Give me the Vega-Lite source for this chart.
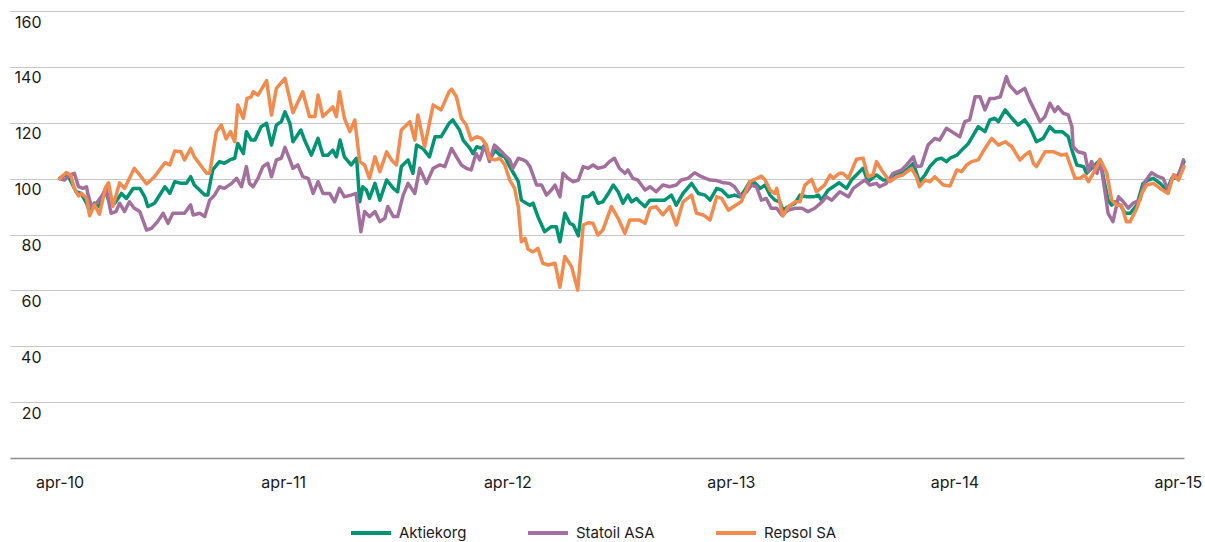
{
  "$schema": "https://vega.github.io/schema/vega-lite/v6.json",
  "width": 1174,
  "height": 447,
  "autosize": {"type": "none"},
  "padding": {"left": 10, "top": 11, "right": 21, "bottom": 84},
  "background": "white",
  "config": {"view": {"stroke": null}, "font": "Inter"},
  "data": {"values": [
    {"series":"Aktiekorg","date":"2010-04-01","value":100},
    {"series":"Aktiekorg","date":"2010-04-09","value":101.3},
    {"series":"Aktiekorg","date":"2010-04-17","value":100.1},
    {"series":"Aktiekorg","date":"2010-04-28","value":95.3},
    {"series":"Aktiekorg","date":"2010-05-06","value":94.7},
    {"series":"Aktiekorg","date":"2010-05-15","value":91.2},
    {"series":"Aktiekorg","date":"2010-05-20","value":88.2},
    {"series":"Aktiekorg","date":"2010-05-28","value":91.2},
    {"series":"Aktiekorg","date":"2010-06-05","value":90},
    {"series":"Aktiekorg","date":"2010-06-14","value":95.9},
    {"series":"Aktiekorg","date":"2010-06-22","value":91.2},
    {"series":"Aktiekorg","date":"2010-06-30","value":91.2},
    {"series":"Aktiekorg","date":"2010-07-11","value":94.7},
    {"series":"Aktiekorg","date":"2010-07-19","value":92.9},
    {"series":"Aktiekorg","date":"2010-07-30","value":96.5},
    {"series":"Aktiekorg","date":"2010-08-10","value":96.5},
    {"series":"Aktiekorg","date":"2010-08-18","value":93.5},
    {"series":"Aktiekorg","date":"2010-08-23","value":90},
    {"series":"Aktiekorg","date":"2010-09-03","value":91.2},
    {"series":"Aktiekorg","date":"2010-09-20","value":97.1},
    {"series":"Aktiekorg","date":"2010-09-28","value":94.7},
    {"series":"Aktiekorg","date":"2010-10-06","value":98.9},
    {"series":"Aktiekorg","date":"2010-10-17","value":98.3},
    {"series":"Aktiekorg","date":"2010-10-25","value":98.3},
    {"series":"Aktiekorg","date":"2010-11-01","value":100.7},
    {"series":"Aktiekorg","date":"2010-11-07","value":97.7},
    {"series":"Aktiekorg","date":"2010-11-24","value":94.1},
    {"series":"Aktiekorg","date":"2010-11-29","value":94.1},
    {"series":"Aktiekorg","date":"2010-12-07","value":103.1},
    {"series":"Aktiekorg","date":"2010-12-18","value":106.1},
    {"series":"Aktiekorg","date":"2010-12-26","value":105.5},
    {"series":"Aktiekorg","date":"2011-01-04","value":106.7},
    {"series":"Aktiekorg","date":"2011-01-12","value":107.3},
    {"series":"Aktiekorg","date":"2011-01-17","value":112.6},
    {"series":"Aktiekorg","date":"2011-01-26","value":109},
    {"series":"Aktiekorg","date":"2011-01-31","value":116.8},
    {"series":"Aktiekorg","date":"2011-02-08","value":113.8},
    {"series":"Aktiekorg","date":"2011-02-14","value":113.8},
    {"series":"Aktiekorg","date":"2011-02-24","value":118.6},
    {"series":"Aktiekorg","date":"2011-03-05","value":119.8},
    {"series":"Aktiekorg","date":"2011-03-13","value":112},
    {"series":"Aktiekorg","date":"2011-03-21","value":119.2},
    {"series":"Aktiekorg","date":"2011-03-29","value":120.4},
    {"series":"Aktiekorg","date":"2011-04-04","value":123.9},
    {"series":"Aktiekorg","date":"2011-04-12","value":119.8},
    {"series":"Aktiekorg","date":"2011-04-17","value":113.2},
    {"series":"Aktiekorg","date":"2011-04-30","value":117.4},
    {"series":"Aktiekorg","date":"2011-05-06","value":113.8},
    {"series":"Aktiekorg","date":"2011-05-17","value":108.4},
    {"series":"Aktiekorg","date":"2011-05-28","value":114.4},
    {"series":"Aktiekorg","date":"2011-06-05","value":108.4},
    {"series":"Aktiekorg","date":"2011-06-13","value":108.4},
    {"series":"Aktiekorg","date":"2011-06-21","value":110.2},
    {"series":"Aktiekorg","date":"2011-06-27","value":107.8},
    {"series":"Aktiekorg","date":"2011-07-03","value":113.8},
    {"series":"Aktiekorg","date":"2011-07-10","value":107.8},
    {"series":"Aktiekorg","date":"2011-07-21","value":104.9},
    {"series":"Aktiekorg","date":"2011-07-30","value":107.3},
    {"series":"Aktiekorg","date":"2011-08-04","value":91.7},
    {"series":"Aktiekorg","date":"2011-08-09","value":97.1},
    {"series":"Aktiekorg","date":"2011-08-15","value":95.9},
    {"series":"Aktiekorg","date":"2011-08-20","value":92.9},
    {"series":"Aktiekorg","date":"2011-08-29","value":98.3},
    {"series":"Aktiekorg","date":"2011-09-06","value":92.3},
    {"series":"Aktiekorg","date":"2011-09-17","value":99.5},
    {"series":"Aktiekorg","date":"2011-09-28","value":96.5},
    {"series":"Aktiekorg","date":"2011-10-05","value":95.3},
    {"series":"Aktiekorg","date":"2011-10-11","value":104.3},
    {"series":"Aktiekorg","date":"2011-10-22","value":106.7},
    {"series":"Aktiekorg","date":"2011-10-30","value":101.9},
    {"series":"Aktiekorg","date":"2011-11-05","value":112},
    {"series":"Aktiekorg","date":"2011-11-15","value":110.8},
    {"series":"Aktiekorg","date":"2011-11-26","value":107.8},
    {"series":"Aktiekorg","date":"2011-12-05","value":115},
    {"series":"Aktiekorg","date":"2011-12-15","value":115},
    {"series":"Aktiekorg","date":"2011-12-28","value":119.8},
    {"series":"Aktiekorg","date":"2012-01-03","value":121},
    {"series":"Aktiekorg","date":"2012-01-14","value":117.4},
    {"series":"Aktiekorg","date":"2012-01-20","value":113.8},
    {"series":"Aktiekorg","date":"2012-01-31","value":110.8},
    {"series":"Aktiekorg","date":"2012-02-05","value":109},
    {"series":"Aktiekorg","date":"2012-02-11","value":111.4},
    {"series":"Aktiekorg","date":"2012-02-19","value":110.8},
    {"series":"Aktiekorg","date":"2012-02-24","value":112},
    {"series":"Aktiekorg","date":"2012-03-03","value":106.7},
    {"series":"Aktiekorg","date":"2012-03-12","value":110.2},
    {"series":"Aktiekorg","date":"2012-03-20","value":108.4},
    {"series":"Aktiekorg","date":"2012-03-28","value":107.8},
    {"series":"Aktiekorg","date":"2012-04-05","value":104.3},
    {"series":"Aktiekorg","date":"2012-04-13","value":101.3},
    {"series":"Aktiekorg","date":"2012-04-19","value":98.9},
    {"series":"Aktiekorg","date":"2012-04-24","value":92.3},
    {"series":"Aktiekorg","date":"2012-05-02","value":91.2},
    {"series":"Aktiekorg","date":"2012-05-08","value":90.5},
    {"series":"Aktiekorg","date":"2012-05-13","value":91.2},
    {"series":"Aktiekorg","date":"2012-05-21","value":86.4},
    {"series":"Aktiekorg","date":"2012-06-01","value":81},
    {"series":"Aktiekorg","date":"2012-06-12","value":82.8},
    {"series":"Aktiekorg","date":"2012-06-20","value":82.8},
    {"series":"Aktiekorg","date":"2012-06-26","value":77.4},
    {"series":"Aktiekorg","date":"2012-07-04","value":87.6},
    {"series":"Aktiekorg","date":"2012-07-12","value":84},
    {"series":"Aktiekorg","date":"2012-07-18","value":83.4},
    {"series":"Aktiekorg","date":"2012-07-26","value":79.5},
    {"series":"Aktiekorg","date":"2012-08-03","value":93.5},
    {"series":"Aktiekorg","date":"2012-08-11","value":93.5},
    {"series":"Aktiekorg","date":"2012-08-19","value":95},
    {"series":"Aktiekorg","date":"2012-08-27","value":91.2},
    {"series":"Aktiekorg","date":"2012-09-04","value":91.7},
    {"series":"Aktiekorg","date":"2012-09-13","value":94.7},
    {"series":"Aktiekorg","date":"2012-09-21","value":97.7},
    {"series":"Aktiekorg","date":"2012-09-29","value":95.3},
    {"series":"Aktiekorg","date":"2012-10-07","value":91.2},
    {"series":"Aktiekorg","date":"2012-10-15","value":94.1},
    {"series":"Aktiekorg","date":"2012-10-21","value":91.7},
    {"series":"Aktiekorg","date":"2012-10-29","value":92.9},
    {"series":"Aktiekorg","date":"2012-11-03","value":91.7},
    {"series":"Aktiekorg","date":"2012-11-12","value":90},
    {"series":"Aktiekorg","date":"2012-11-20","value":92.3},
    {"series":"Aktiekorg","date":"2012-11-30","value":92.3},
    {"series":"Aktiekorg","date":"2012-12-14","value":92.3},
    {"series":"Aktiekorg","date":"2012-12-25","value":94.1},
    {"series":"Aktiekorg","date":"2013-01-02","value":90.5},
    {"series":"Aktiekorg","date":"2013-01-13","value":94.7},
    {"series":"Aktiekorg","date":"2013-01-27","value":98.3},
    {"series":"Aktiekorg","date":"2013-02-07","value":94.7},
    {"series":"Aktiekorg","date":"2013-02-18","value":94.1},
    {"series":"Aktiekorg","date":"2013-02-26","value":92.3},
    {"series":"Aktiekorg","date":"2013-03-09","value":96.5},
    {"series":"Aktiekorg","date":"2013-03-17","value":95.9},
    {"series":"Aktiekorg","date":"2013-03-28","value":93.5},
    {"series":"Aktiekorg","date":"2013-04-07","value":94.1},
    {"series":"Aktiekorg","date":"2013-04-16","value":93.5},
    {"series":"Aktiekorg","date":"2013-04-24","value":95.9},
    {"series":"Aktiekorg","date":"2013-05-02","value":98.9},
    {"series":"Aktiekorg","date":"2013-05-10","value":98.5},
    {"series":"Aktiekorg","date":"2013-05-19","value":96.5},
    {"series":"Aktiekorg","date":"2013-05-27","value":97.7},
    {"series":"Aktiekorg","date":"2013-06-04","value":94.1},
    {"series":"Aktiekorg","date":"2013-06-12","value":92.3},
    {"series":"Aktiekorg","date":"2013-06-20","value":91.7},
    {"series":"Aktiekorg","date":"2013-06-25","value":88.7},
    {"series":"Aktiekorg","date":"2013-07-04","value":90},
    {"series":"Aktiekorg","date":"2013-07-15","value":91.2},
    {"series":"Aktiekorg","date":"2013-07-23","value":94.1},
    {"series":"Aktiekorg","date":"2013-08-03","value":93.5},
    {"series":"Aktiekorg","date":"2013-08-14","value":93.5},
    {"series":"Aktiekorg","date":"2013-08-22","value":94.1},
    {"series":"Aktiekorg","date":"2013-08-27","value":92.3},
    {"series":"Aktiekorg","date":"2013-09-07","value":95.9},
    {"series":"Aktiekorg","date":"2013-09-15","value":97.1},
    {"series":"Aktiekorg","date":"2013-09-25","value":98.5},
    {"series":"Aktiekorg","date":"2013-10-07","value":96.5},
    {"series":"Aktiekorg","date":"2013-10-15","value":99.5},
    {"series":"Aktiekorg","date":"2013-11-03","value":103.7},
    {"series":"Aktiekorg","date":"2013-11-11","value":98.9},
    {"series":"Aktiekorg","date":"2013-11-25","value":101.3},
    {"series":"Aktiekorg","date":"2013-12-06","value":99.5},
    {"series":"Aktiekorg","date":"2013-12-14","value":99.5},
    {"series":"Aktiekorg","date":"2013-12-25","value":101.3},
    {"series":"Aktiekorg","date":"2014-01-05","value":101.9},
    {"series":"Aktiekorg","date":"2014-01-16","value":103.7},
    {"series":"Aktiekorg","date":"2014-01-24","value":105.5},
    {"series":"Aktiekorg","date":"2014-02-03","value":98.9},
    {"series":"Aktiekorg","date":"2014-02-12","value":101.3},
    {"series":"Aktiekorg","date":"2014-02-20","value":104.3},
    {"series":"Aktiekorg","date":"2014-03-03","value":106.9},
    {"series":"Aktiekorg","date":"2014-03-11","value":107.3},
    {"series":"Aktiekorg","date":"2014-03-19","value":106.1},
    {"series":"Aktiekorg","date":"2014-03-25","value":107.3},
    {"series":"Aktiekorg","date":"2014-04-05","value":108.4},
    {"series":"Aktiekorg","date":"2014-04-13","value":110.2},
    {"series":"Aktiekorg","date":"2014-04-24","value":112.6},
    {"series":"Aktiekorg","date":"2014-05-02","value":115.6},
    {"series":"Aktiekorg","date":"2014-05-10","value":118.6},
    {"series":"Aktiekorg","date":"2014-05-21","value":116.8},
    {"series":"Aktiekorg","date":"2014-05-29","value":121},
    {"series":"Aktiekorg","date":"2014-06-06","value":121.6},
    {"series":"Aktiekorg","date":"2014-06-12","value":120.4},
    {"series":"Aktiekorg","date":"2014-06-23","value":124.6},
    {"series":"Aktiekorg","date":"2014-07-04","value":121.6},
    {"series":"Aktiekorg","date":"2014-07-14","value":119.2},
    {"series":"Aktiekorg","date":"2014-07-25","value":121},
    {"series":"Aktiekorg","date":"2014-08-02","value":118.6},
    {"series":"Aktiekorg","date":"2014-08-13","value":113.2},
    {"series":"Aktiekorg","date":"2014-08-24","value":114.4},
    {"series":"Aktiekorg","date":"2014-09-04","value":118.6},
    {"series":"Aktiekorg","date":"2014-09-12","value":116.8},
    {"series":"Aktiekorg","date":"2014-09-24","value":116.8},
    {"series":"Aktiekorg","date":"2014-10-04","value":115},
    {"series":"Aktiekorg","date":"2014-10-10","value":110.2},
    {"series":"Aktiekorg","date":"2014-10-18","value":104.9},
    {"series":"Aktiekorg","date":"2014-10-29","value":104.3},
    {"series":"Aktiekorg","date":"2014-11-03","value":101.9},
    {"series":"Aktiekorg","date":"2014-11-11","value":103.7},
    {"series":"Aktiekorg","date":"2014-11-25","value":106.7},
    {"series":"Aktiekorg","date":"2014-12-03","value":97.7},
    {"series":"Aktiekorg","date":"2014-12-08","value":92.3},
    {"series":"Aktiekorg","date":"2014-12-14","value":90.5},
    {"series":"Aktiekorg","date":"2014-12-19","value":91.7},
    {"series":"Aktiekorg","date":"2014-12-28","value":90.5},
    {"series":"Aktiekorg","date":"2015-01-05","value":87.6},
    {"series":"Aktiekorg","date":"2015-01-13","value":87.6},
    {"series":"Aktiekorg","date":"2015-01-24","value":90.5},
    {"series":"Aktiekorg","date":"2015-02-03","value":98.3},
    {"series":"Aktiekorg","date":"2015-02-12","value":99.5},
    {"series":"Aktiekorg","date":"2015-02-20","value":100.1},
    {"series":"Aktiekorg","date":"2015-03-03","value":98.3},
    {"series":"Aktiekorg","date":"2015-03-14","value":95.9},
    {"series":"Aktiekorg","date":"2015-03-22","value":100.1},
    {"series":"Aktiekorg","date":"2015-03-30","value":100.1},
    {"series":"Aktiekorg","date":"2015-04-11","value":106.1},

    {"series":"Statoil ASA","date":"2010-04-01","value":100},
    {"series":"Statoil ASA","date":"2010-04-09","value":99.5},
    {"series":"Statoil ASA","date":"2010-04-17","value":101.3},
    {"series":"Statoil ASA","date":"2010-04-25","value":101.9},
    {"series":"Statoil ASA","date":"2010-05-02","value":97.1},
    {"series":"Statoil ASA","date":"2010-05-09","value":96.5},
    {"series":"Statoil ASA","date":"2010-05-15","value":97.1},
    {"series":"Statoil ASA","date":"2010-05-17","value":94.7},
    {"series":"Statoil ASA","date":"2010-05-23","value":90},
    {"series":"Statoil ASA","date":"2010-05-31","value":91.2},
    {"series":"Statoil ASA","date":"2010-06-08","value":93.5},
    {"series":"Statoil ASA","date":"2010-06-16","value":96.5},
    {"series":"Statoil ASA","date":"2010-06-24","value":87.6},
    {"series":"Statoil ASA","date":"2010-07-02","value":88.2},
    {"series":"Statoil ASA","date":"2010-07-08","value":91.2},
    {"series":"Statoil ASA","date":"2010-07-16","value":88.2},
    {"series":"Statoil ASA","date":"2010-07-24","value":91.7},
    {"series":"Statoil ASA","date":"2010-08-01","value":89.4},
    {"series":"Statoil ASA","date":"2010-08-10","value":88.2},
    {"series":"Statoil ASA","date":"2010-08-21","value":81.6},
    {"series":"Statoil ASA","date":"2010-08-29","value":82.2},
    {"series":"Statoil ASA","date":"2010-09-08","value":84.6},
    {"series":"Statoil ASA","date":"2010-09-17","value":87.6},
    {"series":"Statoil ASA","date":"2010-09-25","value":84},
    {"series":"Statoil ASA","date":"2010-10-03","value":87.6},
    {"series":"Statoil ASA","date":"2010-10-11","value":87.6},
    {"series":"Statoil ASA","date":"2010-10-22","value":87.6},
    {"series":"Statoil ASA","date":"2010-11-01","value":90.6},
    {"series":"Statoil ASA","date":"2010-11-05","value":87},
    {"series":"Statoil ASA","date":"2010-11-16","value":87.6},
    {"series":"Statoil ASA","date":"2010-11-24","value":86.4},
    {"series":"Statoil ASA","date":"2010-12-02","value":92.3},
    {"series":"Statoil ASA","date":"2010-12-10","value":94.1},
    {"series":"Statoil ASA","date":"2010-12-18","value":97.1},
    {"series":"Statoil ASA","date":"2010-12-26","value":96.5},
    {"series":"Statoil ASA","date":"2011-01-07","value":98.3},
    {"series":"Statoil ASA","date":"2011-01-15","value":100.1},
    {"series":"Statoil ASA","date":"2011-01-23","value":97.1},
    {"series":"Statoil ASA","date":"2011-01-31","value":104.3},
    {"series":"Statoil ASA","date":"2011-02-05","value":98.3},
    {"series":"Statoil ASA","date":"2011-02-11","value":97.1},
    {"series":"Statoil ASA","date":"2011-02-19","value":100.1},
    {"series":"Statoil ASA","date":"2011-02-27","value":104.3},
    {"series":"Statoil ASA","date":"2011-03-07","value":105.5},
    {"series":"Statoil ASA","date":"2011-03-13","value":100.7},
    {"series":"Statoil ASA","date":"2011-03-21","value":106.7},
    {"series":"Statoil ASA","date":"2011-03-29","value":107.3},
    {"series":"Statoil ASA","date":"2011-04-04","value":111.2},
    {"series":"Statoil ASA","date":"2011-04-12","value":106.7},
    {"series":"Statoil ASA","date":"2011-04-17","value":103.7},
    {"series":"Statoil ASA","date":"2011-04-25","value":104.9},
    {"series":"Statoil ASA","date":"2011-05-03","value":100.7},
    {"series":"Statoil ASA","date":"2011-05-12","value":100.1},
    {"series":"Statoil ASA","date":"2011-05-20","value":94.7},
    {"series":"Statoil ASA","date":"2011-05-28","value":98.9},
    {"series":"Statoil ASA","date":"2011-06-05","value":94.7},
    {"series":"Statoil ASA","date":"2011-06-16","value":94.7},
    {"series":"Statoil ASA","date":"2011-06-24","value":91.7},
    {"series":"Statoil ASA","date":"2011-07-02","value":96.5},
    {"series":"Statoil ASA","date":"2011-07-10","value":93.5},
    {"series":"Statoil ASA","date":"2011-07-21","value":94.1},
    {"series":"Statoil ASA","date":"2011-07-29","value":94.7},
    {"series":"Statoil ASA","date":"2011-08-06","value":81},
    {"series":"Statoil ASA","date":"2011-08-12","value":88.2},
    {"series":"Statoil ASA","date":"2011-08-20","value":86.4},
    {"series":"Statoil ASA","date":"2011-08-29","value":88.2},
    {"series":"Statoil ASA","date":"2011-09-06","value":84.6},
    {"series":"Statoil ASA","date":"2011-09-14","value":85.8},
    {"series":"Statoil ASA","date":"2011-09-19","value":90},
    {"series":"Statoil ASA","date":"2011-09-28","value":86.4},
    {"series":"Statoil ASA","date":"2011-10-05","value":86.4},
    {"series":"Statoil ASA","date":"2011-10-14","value":94.1},
    {"series":"Statoil ASA","date":"2011-10-22","value":98.3},
    {"series":"Statoil ASA","date":"2011-11-02","value":94.7},
    {"series":"Statoil ASA","date":"2011-11-10","value":103.7},
    {"series":"Statoil ASA","date":"2011-11-21","value":98.3},
    {"series":"Statoil ASA","date":"2011-12-02","value":103.7},
    {"series":"Statoil ASA","date":"2011-12-13","value":104.9},
    {"series":"Statoil ASA","date":"2011-12-21","value":104.3},
    {"series":"Statoil ASA","date":"2012-01-01","value":110.8},
    {"series":"Statoil ASA","date":"2012-01-09","value":107.8},
    {"series":"Statoil ASA","date":"2012-01-17","value":104.9},
    {"series":"Statoil ASA","date":"2012-01-25","value":103.7},
    {"series":"Statoil ASA","date":"2012-02-02","value":103.1},
    {"series":"Statoil ASA","date":"2012-02-10","value":109},
    {"series":"Statoil ASA","date":"2012-02-16","value":106.7},
    {"series":"Statoil ASA","date":"2012-02-24","value":112},
    {"series":"Statoil ASA","date":"2012-03-03","value":106.1},
    {"series":"Statoil ASA","date":"2012-03-11","value":112},
    {"series":"Statoil ASA","date":"2012-03-20","value":110.2},
    {"series":"Statoil ASA","date":"2012-03-28","value":108.4},
    {"series":"Statoil ASA","date":"2012-04-05","value":106.7},
    {"series":"Statoil ASA","date":"2012-04-10","value":103.7},
    {"series":"Statoil ASA","date":"2012-04-19","value":107.3},
    {"series":"Statoil ASA","date":"2012-04-27","value":106.7},
    {"series":"Statoil ASA","date":"2012-05-02","value":106.1},
    {"series":"Statoil ASA","date":"2012-05-08","value":104.3},
    {"series":"Statoil ASA","date":"2012-05-19","value":97.7},
    {"series":"Statoil ASA","date":"2012-05-27","value":97.7},
    {"series":"Statoil ASA","date":"2012-06-04","value":94.1},
    {"series":"Statoil ASA","date":"2012-06-12","value":95.9},
    {"series":"Statoil ASA","date":"2012-06-18","value":97.7},
    {"series":"Statoil ASA","date":"2012-06-26","value":93.5},
    {"series":"Statoil ASA","date":"2012-07-01","value":101.9},
    {"series":"Statoil ASA","date":"2012-07-09","value":100.1},
    {"series":"Statoil ASA","date":"2012-07-18","value":98.9},
    {"series":"Statoil ASA","date":"2012-07-26","value":99.5},
    {"series":"Statoil ASA","date":"2012-08-03","value":104.3},
    {"series":"Statoil ASA","date":"2012-08-11","value":103.7},
    {"series":"Statoil ASA","date":"2012-08-19","value":104.9},
    {"series":"Statoil ASA","date":"2012-08-27","value":103.7},
    {"series":"Statoil ASA","date":"2012-09-07","value":104.3},
    {"series":"Statoil ASA","date":"2012-09-15","value":106.1},
    {"series":"Statoil ASA","date":"2012-09-23","value":107.3},
    {"series":"Statoil ASA","date":"2012-10-01","value":103.7},
    {"series":"Statoil ASA","date":"2012-10-10","value":101.9},
    {"series":"Statoil ASA","date":"2012-10-15","value":103.1},
    {"series":"Statoil ASA","date":"2012-10-23","value":100.1},
    {"series":"Statoil ASA","date":"2012-10-31","value":99.5},
    {"series":"Statoil ASA","date":"2012-11-12","value":95.9},
    {"series":"Statoil ASA","date":"2012-11-20","value":97.1},
    {"series":"Statoil ASA","date":"2012-11-30","value":95.3},
    {"series":"Statoil ASA","date":"2012-12-11","value":97.7},
    {"series":"Statoil ASA","date":"2012-12-22","value":97.1},
    {"series":"Statoil ASA","date":"2013-01-02","value":97.7},
    {"series":"Statoil ASA","date":"2013-01-10","value":99.5},
    {"series":"Statoil ASA","date":"2013-01-21","value":100.1},
    {"series":"Statoil ASA","date":"2013-02-01","value":102.1},
    {"series":"Statoil ASA","date":"2013-02-12","value":100.7},
    {"series":"Statoil ASA","date":"2013-02-26","value":99.5},
    {"series":"Statoil ASA","date":"2013-03-09","value":99.3},
    {"series":"Statoil ASA","date":"2013-03-20","value":98.5},
    {"series":"Statoil ASA","date":"2013-03-30","value":98.3},
    {"series":"Statoil ASA","date":"2013-04-07","value":97.1},
    {"series":"Statoil ASA","date":"2013-04-18","value":93.5},
    {"series":"Statoil ASA","date":"2013-04-27","value":95.3},
    {"series":"Statoil ASA","date":"2013-05-05","value":97.7},
    {"series":"Statoil ASA","date":"2013-05-13","value":97.1},
    {"series":"Statoil ASA","date":"2013-05-21","value":92.3},
    {"series":"Statoil ASA","date":"2013-05-29","value":92.9},
    {"series":"Statoil ASA","date":"2013-06-06","value":89.4},
    {"series":"Statoil ASA","date":"2013-06-15","value":89.4},
    {"series":"Statoil ASA","date":"2013-06-23","value":87},
    {"series":"Statoil ASA","date":"2013-07-04","value":88.7},
    {"series":"Statoil ASA","date":"2013-07-15","value":89.4},
    {"series":"Statoil ASA","date":"2013-07-26","value":89.4},
    {"series":"Statoil ASA","date":"2013-08-05","value":88.2},
    {"series":"Statoil ASA","date":"2013-08-16","value":89.4},
    {"series":"Statoil ASA","date":"2013-08-28","value":91.7},
    {"series":"Statoil ASA","date":"2013-09-04","value":93.5},
    {"series":"Statoil ASA","date":"2013-09-13","value":92.3},
    {"series":"Statoil ASA","date":"2013-09-18","value":93.5},
    {"series":"Statoil ASA","date":"2013-09-26","value":95.3},
    {"series":"Statoil ASA","date":"2013-10-10","value":93.5},
    {"series":"Statoil ASA","date":"2013-10-18","value":96.5},
    {"series":"Statoil ASA","date":"2013-10-29","value":98.3},
    {"series":"Statoil ASA","date":"2013-11-06","value":99.5},
    {"series":"Statoil ASA","date":"2013-11-14","value":97.7},
    {"series":"Statoil ASA","date":"2013-11-25","value":98.3},
    {"series":"Statoil ASA","date":"2013-11-30","value":97.1},
    {"series":"Statoil ASA","date":"2013-12-11","value":98.3},
    {"series":"Statoil ASA","date":"2013-12-22","value":101.9},
    {"series":"Statoil ASA","date":"2014-01-05","value":103.1},
    {"series":"Statoil ASA","date":"2014-01-13","value":104.9},
    {"series":"Statoil ASA","date":"2014-01-24","value":107.8},
    {"series":"Statoil ASA","date":"2014-01-29","value":104.3},
    {"series":"Statoil ASA","date":"2014-02-06","value":104.5},
    {"series":"Statoil ASA","date":"2014-02-17","value":112},
    {"series":"Statoil ASA","date":"2014-02-28","value":114.4},
    {"series":"Statoil ASA","date":"2014-03-08","value":113.8},
    {"series":"Statoil ASA","date":"2014-03-19","value":118},
    {"series":"Statoil ASA","date":"2014-03-28","value":116.8},
    {"series":"Statoil ASA","date":"2014-04-10","value":115},
    {"series":"Statoil ASA","date":"2014-04-18","value":120.4},
    {"series":"Statoil ASA","date":"2014-04-26","value":121},
    {"series":"Statoil ASA","date":"2014-05-05","value":129.3},
    {"series":"Statoil ASA","date":"2014-05-13","value":129.3},
    {"series":"Statoil ASA","date":"2014-05-21","value":124.6},
    {"series":"Statoil ASA","date":"2014-05-29","value":128.7},
    {"series":"Statoil ASA","date":"2014-06-06","value":128.7},
    {"series":"Statoil ASA","date":"2014-06-15","value":129.3},
    {"series":"Statoil ASA","date":"2014-06-25","value":136.5},
    {"series":"Statoil ASA","date":"2014-06-30","value":133.5},
    {"series":"Statoil ASA","date":"2014-07-12","value":130.5},
    {"series":"Statoil ASA","date":"2014-07-25","value":132.3},
    {"series":"Statoil ASA","date":"2014-08-02","value":128},
    {"series":"Statoil ASA","date":"2014-08-10","value":124.5},
    {"series":"Statoil ASA","date":"2014-08-19","value":120.4},
    {"series":"Statoil ASA","date":"2014-08-27","value":122.2},
    {"series":"Statoil ASA","date":"2014-09-04","value":127},
    {"series":"Statoil ASA","date":"2014-09-12","value":124},
    {"series":"Statoil ASA","date":"2014-09-17","value":125.7},
    {"series":"Statoil ASA","date":"2014-09-26","value":123.4},
    {"series":"Statoil ASA","date":"2014-10-04","value":122.8},
    {"series":"Statoil ASA","date":"2014-10-10","value":118.6},
    {"series":"Statoil ASA","date":"2014-10-12","value":111.4},
    {"series":"Statoil ASA","date":"2014-10-20","value":109.6},
    {"series":"Statoil ASA","date":"2014-10-31","value":109},
    {"series":"Statoil ASA","date":"2014-11-06","value":102.5},
    {"series":"Statoil ASA","date":"2014-11-11","value":106.1},
    {"series":"Statoil ASA","date":"2014-11-20","value":101.9},
    {"series":"Statoil ASA","date":"2014-11-25","value":106.7},
    {"series":"Statoil ASA","date":"2014-12-03","value":95.3},
    {"series":"Statoil ASA","date":"2014-12-08","value":87.6},
    {"series":"Statoil ASA","date":"2014-12-16","value":84.6},
    {"series":"Statoil ASA","date":"2014-12-25","value":93.5},
    {"series":"Statoil ASA","date":"2015-01-02","value":91.7},
    {"series":"Statoil ASA","date":"2015-01-10","value":89.4},
    {"series":"Statoil ASA","date":"2015-01-18","value":91.2},
    {"series":"Statoil ASA","date":"2015-01-29","value":92.3},
    {"series":"Statoil ASA","date":"2015-02-06","value":98.9},
    {"series":"Statoil ASA","date":"2015-02-17","value":102.1},
    {"series":"Statoil ASA","date":"2015-02-28","value":100.7},
    {"series":"Statoil ASA","date":"2015-03-08","value":100.1},
    {"series":"Statoil ASA","date":"2015-03-16","value":95.9},
    {"series":"Statoil ASA","date":"2015-03-25","value":101.3},
    {"series":"Statoil ASA","date":"2015-04-02","value":100.7},
    {"series":"Statoil ASA","date":"2015-04-10","value":106.7},

    {"series":"Repsol SA","date":"2010-04-01","value":100},
    {"series":"Repsol SA","date":"2010-04-12","value":102.2},
    {"series":"Repsol SA","date":"2010-04-19","value":101.3},
    {"series":"Repsol SA","date":"2010-04-25","value":96.5},
    {"series":"Repsol SA","date":"2010-05-02","value":93.8},
    {"series":"Repsol SA","date":"2010-05-07","value":94.7},
    {"series":"Repsol SA","date":"2010-05-15","value":93},
    {"series":"Repsol SA","date":"2010-05-20","value":86.7},
    {"series":"Repsol SA","date":"2010-05-28","value":90.6},
    {"series":"Repsol SA","date":"2010-06-05","value":87.3},
    {"series":"Repsol SA","date":"2010-06-15","value":96.8},
    {"series":"Repsol SA","date":"2010-06-20","value":98.5},
    {"series":"Repsol SA","date":"2010-06-27","value":90},
    {"series":"Repsol SA","date":"2010-07-08","value":98.5},
    {"series":"Repsol SA","date":"2010-07-16","value":96.5},
    {"series":"Repsol SA","date":"2010-08-01","value":103.7},
    {"series":"Repsol SA","date":"2010-08-10","value":101.3},
    {"series":"Repsol SA","date":"2010-08-21","value":98.1},
    {"series":"Repsol SA","date":"2010-09-03","value":100.7},
    {"series":"Repsol SA","date":"2010-09-20","value":105.7},
    {"series":"Repsol SA","date":"2010-09-28","value":104.9},
    {"series":"Repsol SA","date":"2010-10-06","value":109.9},
    {"series":"Repsol SA","date":"2010-10-16","value":109.6},
    {"series":"Repsol SA","date":"2010-10-22","value":106.7},
    {"series":"Repsol SA","date":"2010-11-01","value":110.8},
    {"series":"Repsol SA","date":"2010-11-07","value":107.8},
    {"series":"Repsol SA","date":"2010-11-27","value":101.9},
    {"series":"Repsol SA","date":"2010-12-02","value":101.9},
    {"series":"Repsol SA","date":"2010-12-13","value":116.8},
    {"series":"Repsol SA","date":"2010-12-21","value":119.2},
    {"series":"Repsol SA","date":"2010-12-29","value":114.2},
    {"series":"Repsol SA","date":"2011-01-05","value":116.8},
    {"series":"Repsol SA","date":"2011-01-12","value":113.2},
    {"series":"Repsol SA","date":"2011-01-17","value":126.4},
    {"series":"Repsol SA","date":"2011-01-26","value":121.6},
    {"series":"Repsol SA","date":"2011-02-01","value":128.7},
    {"series":"Repsol SA","date":"2011-02-08","value":129.3},
    {"series":"Repsol SA","date":"2011-02-11","value":131.1},
    {"series":"Repsol SA","date":"2011-02-19","value":129.9},
    {"series":"Repsol SA","date":"2011-03-05","value":135.1},
    {"series":"Repsol SA","date":"2011-03-13","value":122.8},
    {"series":"Repsol SA","date":"2011-03-21","value":132.3},
    {"series":"Repsol SA","date":"2011-04-04","value":135.9},
    {"series":"Repsol SA","date":"2011-04-17","value":123.6},
    {"series":"Repsol SA","date":"2011-05-03","value":131.1},
    {"series":"Repsol SA","date":"2011-05-14","value":122.2},
    {"series":"Repsol SA","date":"2011-05-23","value":122.2},
    {"series":"Repsol SA","date":"2011-05-28","value":129.9},
    {"series":"Repsol SA","date":"2011-06-05","value":122.2},
    {"series":"Repsol SA","date":"2011-06-16","value":124.6},
    {"series":"Repsol SA","date":"2011-06-21","value":125.7},
    {"series":"Repsol SA","date":"2011-06-27","value":122.2},
    {"series":"Repsol SA","date":"2011-07-02","value":131.1},
    {"series":"Repsol SA","date":"2011-07-10","value":121.6},
    {"series":"Repsol SA","date":"2011-07-19","value":116.8},
    {"series":"Repsol SA","date":"2011-07-27","value":121},
    {"series":"Repsol SA","date":"2011-08-04","value":106.1},
    {"series":"Repsol SA","date":"2011-08-12","value":104.9},
    {"series":"Repsol SA","date":"2011-08-20","value":100.1},
    {"series":"Repsol SA","date":"2011-08-29","value":107.8},
    {"series":"Repsol SA","date":"2011-09-06","value":102.5},
    {"series":"Repsol SA","date":"2011-09-17","value":109.6},
    {"series":"Repsol SA","date":"2011-09-25","value":106.7},
    {"series":"Repsol SA","date":"2011-10-03","value":104.9},
    {"series":"Repsol SA","date":"2011-10-11","value":117.4},
    {"series":"Repsol SA","date":"2011-10-25","value":120.4},
    {"series":"Repsol SA","date":"2011-11-02","value":113.8},
    {"series":"Repsol SA","date":"2011-11-07","value":122.8},
    {"series":"Repsol SA","date":"2011-11-18","value":111.4},
    {"series":"Repsol SA","date":"2011-12-02","value":126.4},
    {"series":"Repsol SA","date":"2011-12-15","value":124.6},
    {"series":"Repsol SA","date":"2011-12-28","value":131.1},
    {"series":"Repsol SA","date":"2012-01-01","value":132},
    {"series":"Repsol SA","date":"2012-01-09","value":129.3},
    {"series":"Repsol SA","date":"2012-01-17","value":121.6},
    {"series":"Repsol SA","date":"2012-01-25","value":119.2},
    {"series":"Repsol SA","date":"2012-02-02","value":113.8},
    {"series":"Repsol SA","date":"2012-02-11","value":115},
    {"series":"Repsol SA","date":"2012-02-19","value":114.4},
    {"series":"Repsol SA","date":"2012-02-27","value":112},
    {"series":"Repsol SA","date":"2012-03-03","value":107.3},
    {"series":"Repsol SA","date":"2012-03-12","value":106.7},
    {"series":"Repsol SA","date":"2012-03-20","value":107.3},
    {"series":"Repsol SA","date":"2012-03-28","value":104.9},
    {"series":"Repsol SA","date":"2012-04-05","value":99.5},
    {"series":"Repsol SA","date":"2012-04-13","value":96.5},
    {"series":"Repsol SA","date":"2012-04-19","value":90},
    {"series":"Repsol SA","date":"2012-04-24","value":77.4},
    {"series":"Repsol SA","date":"2012-04-30","value":78.6},
    {"series":"Repsol SA","date":"2012-05-05","value":74.7},
    {"series":"Repsol SA","date":"2012-05-13","value":73.8},
    {"series":"Repsol SA","date":"2012-05-21","value":75},
    {"series":"Repsol SA","date":"2012-05-29","value":69.7},
    {"series":"Repsol SA","date":"2012-06-07","value":69.1},
    {"series":"Repsol SA","date":"2012-06-18","value":69.7},
    {"series":"Repsol SA","date":"2012-06-26","value":61.1},
    {"series":"Repsol SA","date":"2012-07-04","value":72.1},
    {"series":"Repsol SA","date":"2012-07-15","value":68.5},
    {"series":"Repsol SA","date":"2012-07-25","value":60.1},
    {"series":"Repsol SA","date":"2012-08-03","value":83.4},
    {"series":"Repsol SA","date":"2012-08-11","value":84.2},
    {"series":"Repsol SA","date":"2012-08-19","value":84},
    {"series":"Repsol SA","date":"2012-08-27","value":79.8},
    {"series":"Repsol SA","date":"2012-09-04","value":81.6},
    {"series":"Repsol SA","date":"2012-09-18","value":90},
    {"series":"Repsol SA","date":"2012-09-29","value":85.8},
    {"series":"Repsol SA","date":"2012-10-10","value":80.4},
    {"series":"Repsol SA","date":"2012-10-18","value":85.2},
    {"series":"Repsol SA","date":"2012-10-29","value":85.2},
    {"series":"Repsol SA","date":"2012-11-03","value":85.2},
    {"series":"Repsol SA","date":"2012-11-12","value":84},
    {"series":"Repsol SA","date":"2012-11-20","value":89.4},
    {"series":"Repsol SA","date":"2012-11-30","value":90},
    {"series":"Repsol SA","date":"2012-12-11","value":87},
    {"series":"Repsol SA","date":"2012-12-22","value":90},
    {"series":"Repsol SA","date":"2013-01-02","value":83.4},
    {"series":"Repsol SA","date":"2013-01-13","value":91.7},
    {"series":"Repsol SA","date":"2013-01-27","value":94.1},
    {"series":"Repsol SA","date":"2013-02-04","value":87.6},
    {"series":"Repsol SA","date":"2013-02-15","value":87},
    {"series":"Repsol SA","date":"2013-02-26","value":85.2},
    {"series":"Repsol SA","date":"2013-03-09","value":93.5},
    {"series":"Repsol SA","date":"2013-03-17","value":92.9},
    {"series":"Repsol SA","date":"2013-03-28","value":88.7},
    {"series":"Repsol SA","date":"2013-04-07","value":90.2},
    {"series":"Repsol SA","date":"2013-04-18","value":91.7},
    {"series":"Repsol SA","date":"2013-05-02","value":98.9},
    {"series":"Repsol SA","date":"2013-05-10","value":99.7},
    {"series":"Repsol SA","date":"2013-05-21","value":100.9},
    {"series":"Repsol SA","date":"2013-05-27","value":99.5},
    {"series":"Repsol SA","date":"2013-06-04","value":95.9},
    {"series":"Repsol SA","date":"2013-06-12","value":94.7},
    {"series":"Repsol SA","date":"2013-06-15","value":96.5},
    {"series":"Repsol SA","date":"2013-06-25","value":86.6},
    {"series":"Repsol SA","date":"2013-07-04","value":90},
    {"series":"Repsol SA","date":"2013-07-15","value":91.7},
    {"series":"Repsol SA","date":"2013-07-23","value":91.7},
    {"series":"Repsol SA","date":"2013-07-31","value":97.7},
    {"series":"Repsol SA","date":"2013-08-11","value":99.7},
    {"series":"Repsol SA","date":"2013-08-19","value":95.3},
    {"series":"Repsol SA","date":"2013-09-01","value":97.7},
    {"series":"Repsol SA","date":"2013-09-10","value":101.3},
    {"series":"Repsol SA","date":"2013-09-15","value":100.1},
    {"series":"Repsol SA","date":"2013-09-25","value":101.9},
    {"series":"Repsol SA","date":"2013-10-01","value":101.9},
    {"series":"Repsol SA","date":"2013-10-10","value":100.1},
    {"series":"Repsol SA","date":"2013-10-23","value":106.9},
    {"series":"Repsol SA","date":"2013-11-03","value":107.3},
    {"series":"Repsol SA","date":"2013-11-11","value":100.7},
    {"series":"Repsol SA","date":"2013-11-19","value":101.3},
    {"series":"Repsol SA","date":"2013-11-25","value":106.1},
    {"series":"Repsol SA","date":"2013-12-03","value":103.1},
    {"series":"Repsol SA","date":"2013-12-17","value":98.9},
    {"series":"Repsol SA","date":"2013-12-28","value":100.7},
    {"series":"Repsol SA","date":"2014-01-07","value":101.3},
    {"series":"Repsol SA","date":"2014-01-21","value":103.7},
    {"series":"Repsol SA","date":"2014-01-29","value":100.7},
    {"series":"Repsol SA","date":"2014-02-03","value":97.1},
    {"series":"Repsol SA","date":"2014-02-12","value":99.5},
    {"series":"Repsol SA","date":"2014-02-20","value":98.9},
    {"series":"Repsol SA","date":"2014-02-28","value":100.7},
    {"series":"Repsol SA","date":"2014-03-14","value":97.7},
    {"series":"Repsol SA","date":"2014-03-25","value":97.4},
    {"series":"Repsol SA","date":"2014-04-05","value":103.1},
    {"series":"Repsol SA","date":"2014-04-13","value":102.5},
    {"series":"Repsol SA","date":"2014-04-21","value":104.9},
    {"series":"Repsol SA","date":"2014-04-29","value":106.1},
    {"series":"Repsol SA","date":"2014-05-10","value":106.7},
    {"series":"Repsol SA","date":"2014-05-21","value":110.8},
    {"series":"Repsol SA","date":"2014-06-01","value":114.4},
    {"series":"Repsol SA","date":"2014-06-12","value":112},
    {"series":"Repsol SA","date":"2014-06-23","value":113.2},
    {"series":"Repsol SA","date":"2014-07-04","value":111.4},
    {"series":"Repsol SA","date":"2014-07-17","value":106.7},
    {"series":"Repsol SA","date":"2014-07-25","value":108.4},
    {"series":"Repsol SA","date":"2014-08-02","value":109.6},
    {"series":"Repsol SA","date":"2014-08-08","value":105.5},
    {"series":"Repsol SA","date":"2014-08-13","value":104.3},
    {"series":"Repsol SA","date":"2014-08-27","value":109.6},
    {"series":"Repsol SA","date":"2014-09-10","value":109.6},
    {"series":"Repsol SA","date":"2014-09-23","value":108.4},
    {"series":"Repsol SA","date":"2014-10-01","value":108.8},
    {"series":"Repsol SA","date":"2014-10-15","value":100.1},
    {"series":"Repsol SA","date":"2014-10-23","value":100.1},
    {"series":"Repsol SA","date":"2014-10-31","value":101.3},
    {"series":"Repsol SA","date":"2014-11-06","value":98.9},
    {"series":"Repsol SA","date":"2014-11-17","value":103.1},
    {"series":"Repsol SA","date":"2014-11-25","value":106.9},
    {"series":"Repsol SA","date":"2014-12-06","value":101.9},
    {"series":"Repsol SA","date":"2014-12-14","value":92.3},
    {"series":"Repsol SA","date":"2014-12-22","value":90.5},
    {"series":"Repsol SA","date":"2014-12-30","value":90.5},
    {"series":"Repsol SA","date":"2015-01-07","value":84.6},
    {"series":"Repsol SA","date":"2015-01-13","value":84.6},
    {"series":"Repsol SA","date":"2015-01-24","value":89.4},
    {"series":"Repsol SA","date":"2015-02-01","value":94.7},
    {"series":"Repsol SA","date":"2015-02-09","value":97.7},
    {"series":"Repsol SA","date":"2015-02-20","value":98.3},
    {"series":"Repsol SA","date":"2015-03-03","value":96.5},
    {"series":"Repsol SA","date":"2015-03-16","value":94.7},
    {"series":"Repsol SA","date":"2015-03-25","value":101.3},
    {"series":"Repsol SA","date":"2015-04-02","value":99.5},
    {"series":"Repsol SA","date":"2015-04-11","value":104.3}
  ]},
  "mark": {"type": "line", "strokeWidth": 3.5, "strokeJoin": "round", "strokeCap": "round"},
  "encoding": {
    "x": {
      "field": "date",
      "type": "temporal",
      "scale": {
        "type": "utc",
        "domain": [
          {"year": 2010, "month": 1, "date": 10, "utc": true},
          {"year": 2015, "month": 4, "date": 11, "utc": true}
        ]
      },
      "axis": {
        "title": null,
        "values": [
          {"year": 2010, "month": 4, "date": 1, "utc": true},
          {"year": 2011, "month": 4, "date": 1, "utc": true},
          {"year": 2012, "month": 4, "date": 1, "utc": true},
          {"year": 2013, "month": 4, "date": 1, "utc": true},
          {"year": 2014, "month": 4, "date": 1, "utc": true},
          {"year": 2015, "month": 4, "date": 1, "utc": true}
        ],
        "labelExpr": "lower(utcFormat(datum.value, '%b-%y'))",
        "grid": false,
        "ticks": false,
        "domain": true,
        "domainColor": "#8c8c8c",
        "domainWidth": 1.5,
        "labelFont": "Inter",
        "labelFontSize": 16,
        "labelColor": "#1a1a1a",
        "labelPadding": 16,
        "labelFlush": false,
        "labelOverlap": false
      }
    },
    "y": {
      "field": "value",
      "type": "quantitative",
      "scale": {"domain": [0, 160], "nice": false, "zero": true},
      "axis": {
        "title": null,
        "values": [20, 40, 60, 80, 100, 120, 140, 160],
        "domain": false,
        "ticks": false,
        "tickSize": 0,
        "grid": true,
        "gridColor": "#c6c6c6",
        "gridWidth": 1,
        "labelAlign": "right",
        "labelBaseline": "top",
        "labelPadding": -31,
        "labelOffset": 3,
        "labelFont": "Inter",
        "labelFontSize": 16,
        "labelColor": "#1a1a1a",
        "labelFlush": false,
        "labelOverlap": false
      }
    },
    "color": {
      "field": "series",
      "type": "nominal",
      "scale": {
        "domain": ["Aktiekorg", "Statoil ASA", "Repsol SA"],
        "range": ["#009473", "#A3709E", "#F28B4D"]
      },
      "legend": {
        "title": null,
        "orient": "none",
        "legendX": 339,
        "legendY": 500,
        "direction": "horizontal",
        "symbolType": "stroke",
        "symbolStrokeWidth": 4,
        "symbolSize": 1600,
        "labelFont": "Inter",
        "labelFontSize": 15,
        "labelColor": "#1a1a1a",
        "labelOffset": 6,
        "columnPadding": 53
      }
    }
  }
}
